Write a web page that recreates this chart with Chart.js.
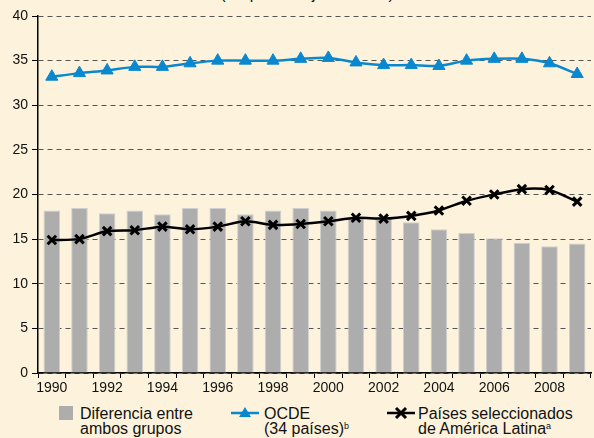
<!DOCTYPE html>
<html>
<head>
<meta charset="utf-8">
<script src="https://cdn.jsdelivr.net/npm/chart.js@4"></script>
<style>
  html, body { margin: 0; padding: 0; background: #fdf3dc; overflow: hidden; }
  #wrap { position: relative; width: 594px; height: 438px; overflow: hidden; background: #fdf3dc;
          font-family: "Liberation Sans", Arial, sans-serif; color: #111; }
  #chartBox { position: absolute; left: 0; top: 0; width: 600px; height: 400px; }
  #title { position: absolute; top: -14px; left: 0; width: 614px; text-align: center; font-size: 16px; line-height: 16px; }
  .leg { position: absolute; font-size: 16px; line-height: 15px; white-space: nowrap; }
  .leg sup { font-size: 9px; vertical-align: 5px; line-height: 0; }
  .sym { position: absolute; }
</style>
</head>
<body>
<div id="wrap">
  <div id="title">(En porcentajes del PIB)</div>
  <div id="chartBox"><canvas id="chart" width="600" height="400"></canvas></div>

  <div class="sym" style="left:59px; top:406px; width:14px; height:14px; background:#adadae;"></div>
  <div class="leg" style="left:80px; top:406px;">Diferencia entre<br>ambos grupos</div>

  <svg class="sym" style="left:230px; top:404px;" width="30" height="18">
    <line x1="1" y1="9" x2="29" y2="9" stroke="#0a88cf" stroke-width="2.5"/>
    <polygon points="15,3 21,13 9,13" fill="#0a88cf"/>
  </svg>
  <div class="leg" style="left:264px; top:406px;">OCDE<br>(34 países)<sup>b</sup></div>

  <svg class="sym" style="left:386px; top:404px;" width="30" height="18">
    <line x1="1" y1="9" x2="29" y2="9" stroke="#000" stroke-width="2.5"/>
    <line x1="10" y1="4" x2="20" y2="14" stroke="#000" stroke-width="3"/>
    <line x1="20" y1="4" x2="10" y2="14" stroke="#000" stroke-width="3"/>
  </svg>
  <div class="leg" style="left:418px; top:406px;">Países seleccionados<br>de América Latina<sup>a</sup></div>
</div>

<script>
const years = ['1990', '1991', '1992', '1993', '1994', '1995', '1996', '1997', '1998', '1999',
               '2000', '2001', '2002', '2003', '2004', '2005', '2006', '2007', '2008', '2009'];
const diferencia = [18.2, 18.5, 17.9, 18.2, 17.8, 18.5, 18.5, 17.8, 18.2, 18.5,
                    18.2, 17.5, 17.3, 16.9, 16.1, 15.7, 15.1, 14.6, 14.2, 14.5];
const ocde = [33.2, 33.6, 33.9, 34.3, 34.3, 34.7, 35.0, 35.0, 35.0, 35.2,
              35.3, 34.8, 34.5, 34.5, 34.4, 35.0, 35.2, 35.2, 34.7, 33.5];
const latam = [14.9, 15.0, 15.9, 16.0, 16.4, 16.1, 16.4, 17.0, 16.6, 16.7,
               17.0, 17.4, 17.3, 17.6, 18.2, 19.3, 20.0, 20.6, 20.5, 19.2];
const yTicks = [0, 5, 10, 15, 20, 25, 30, 35, 40];

const font = { family: '"Liberation Sans", Arial, sans-serif', size: 14 };

new Chart(document.getElementById('chart').getContext('2d'), {
    type: 'bar',
    data: {
        labels: years,
        datasets: [
            {
                type: 'line',
                label: 'Países seleccionados de América Latina',
                data: latam,
                borderColor: '#000',
                backgroundColor: '#000',
                borderWidth: 2.5,
                tension: 0.25,
                pointStyle: 'crossRot',
                pointRadius: 6,
                pointBorderWidth: 3
            },
            {
                type: 'line',
                label: 'OCDE (34 países)',
                data: ocde,
                borderColor: '#0a88cf',
                backgroundColor: '#0a88cf',
                borderWidth: 2.5,
                tension: 0.25,
                pointStyle: 'triangle',
                pointRadius: 7,
                pointBorderWidth: 1
            },
            {
                label: 'Diferencia entre ambos grupos',
                data: diferencia,
                backgroundColor: '#adadae',
                borderColor: '#cfcfcf',
                borderWidth: 1,
                barPercentage: 0.6,
                categoryPercentage: 1
            }
        ]
    },
    options: {
        responsive: false,
        animation: false,
        devicePixelRatio: 1,
        layout: { padding: { top: 16, right: 0, left: 0, bottom: 0 } },
        plugins: {
            legend: { display: false },
            tooltip: { enabled: false }
        },
        scales: {
            x: {
                offset: true,
                grid: {
                    offset: true,
                    drawOnChartArea: false,
                    color: '#000',
                    tickLength: 5
                },
                border: { color: '#000', width: 1.5 },
                ticks: {
                    autoSkip: false,
                    maxRotation: 0,
                    padding: 2,
                    color: '#111',
                    font: font,
                    callback: function(value, index) {
                        return index % 2 === 0 ? years[index] : '';
                    }
                },
                afterFit: function(scale) { scale.height = 27; }
            },
            y: {
                min: 0,
                max: 40,
                afterBuildTicks: function(scale) {
                    scale.ticks = yTicks.map(v => ({ value: v }));
                },
                grid: {
                    color: '#555',
                    tickColor: '#000',
                    tickLength: 6
                },
                border: { color: '#000', width: 1.5, dash: [5, 4] },
                ticks: {
                    padding: 4,
                    color: '#111',
                    font: font
                },
                afterFit: function(scale) { scale.width = 38; }
            }
        }
    }
});
</script>
</body>
</html>
